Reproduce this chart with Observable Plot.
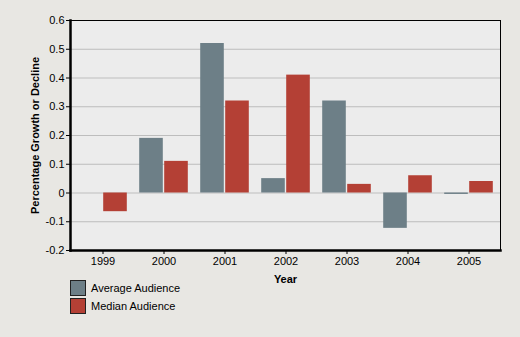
<!DOCTYPE html>
<html><head><meta charset="utf-8">
<script src="https://cdn.jsdelivr.net/npm/d3@7"></script>
<script src="https://cdn.jsdelivr.net/npm/@observablehq/plot@0.6"></script>
<style>
body{margin:0;background:#e8e7e3;font-family:"Liberation Sans",Arial,sans-serif;}
#wrap{position:relative;width:520px;height:337px;overflow:hidden;}
.legend{position:absolute;left:70px;top:279px;font-size:11px;color:#000;}
.item{display:flex;align-items:center;height:18px;}
.sw{width:14px;height:14px;border:1px solid #222;margin-right:5px;}
</style></head><body>
<div id="wrap"></div>
<script>
const years = ["1999","2000","2001","2002","2003","2004","2005"];
const seriesNames = ["Average Audience","Median Audience"];
const averageAudience = [null, 0.19, 0.52, 0.05, 0.32, -0.123, -0.005];
const medianAudience = [-0.065, 0.11, 0.32, 0.41, 0.03, 0.06, 0.04];
const seriesColors = ["#6d7f87","#b44035"];
const yTicks = [-0.2,-0.1,0,0.1,0.2,0.3,0.4,0.5,0.6];
const yTitle = "Percentage Growth or Decline";
const xTitle = "Year";

const rows = years.map((year,i)=>({year, avg: averageAudience[i], med: medianAudience[i]}));

const chart = Plot.plot({
  width:520, height:337,
  marginTop:20, marginRight:20, marginBottom:87, marginLeft:70,
  style:{background:"transparent", fontFamily:"'Liberation Sans',Arial,sans-serif", fontSize:"11px", color:"#000"},
  x:{domain:years, padding:0, label:null, tickSize:4, tickPadding:3},
  y:{domain:[-0.2,0.6], ticks:yTicks, tickFormat:d=>d===0?"0":d.toFixed(1), label:null, tickSize:4, tickPadding:2},
  marks:[
    Plot.frame({fill:"#ececec", stroke:null}),
    Plot.ruleY(yTicks, {stroke:"#bdbdbd", strokeWidth:1.2}),
    Plot.barY(rows, {x:"year", y:"avg", fill:seriesColors[0], insetLeft:6.2, insetRight:31.2}),
    Plot.barY(rows, {x:"year", y:"med", fill:seriesColors[1], insetLeft:31.2, insetRight:6.2}),
    Plot.frame({stroke:"#000", strokeWidth:1}),
    Plot.frame({anchor:"left", stroke:"#000", strokeWidth:2.5}),
    Plot.frame({anchor:"bottom", stroke:"#000", strokeWidth:2.5}),
    Plot.text([yTitle], {frameAnchor:"left", dx:-35, rotate:-90, textAnchor:"middle", lineAnchor:"middle", fontWeight:"bold", fontSize:11}),
    Plot.text([xTitle], {frameAnchor:"bottom", dy:29, lineAnchor:"middle", fontWeight:"bold", fontSize:11})
  ]
});
const wrap = document.getElementById("wrap");
wrap.appendChild(chart);
const legend = document.createElement("div");
legend.className = "legend";
seriesNames.forEach((name,i)=>{
  const item = document.createElement("div");
  item.className = "item";
  const sw = document.createElement("div");
  sw.className = "sw";
  sw.style.background = seriesColors[i];
  const label = document.createElement("span");
  label.textContent = name;
  item.appendChild(sw); item.appendChild(label);
  legend.appendChild(item);
});
wrap.appendChild(legend);
</script>
</body></html>
